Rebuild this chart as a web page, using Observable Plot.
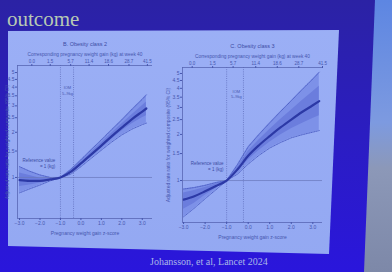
<!DOCTYPE html>
<html><head><meta charset="utf-8">
<script src="https://cdn.jsdelivr.net/npm/d3@7"></script>
<script src="https://cdn.jsdelivr.net/npm/@observablehq/plot@0.6"></script>
<style>
html,body{margin:0;padding:0;}
body{width:392px;height:272px;overflow:hidden;position:relative;background:linear-gradient(180deg,#2b22a4 0%,#2b1dc2 50%,#2a16dc 100%);font-family:"Liberation Sans",Arial,sans-serif;}
#strip{position:absolute;left:0;top:0;width:392px;height:272px;clip-path:polygon(375px 0,392px 0,392px 272px,364px 272px);background:linear-gradient(180deg,#5d86e2 0%,#7d9ae0 45%,#8c98b8 62%,#7d88a8 100%);}
#panel{position:absolute;left:0;top:0;width:392px;height:272px;clip-path:polygon(8px 31px,339px 30px,329px 254px,8px 246px);background:linear-gradient(180deg,#9cb0f6,#93a8f2);}
.t{position:absolute;font-family:"Liberation Serif","DejaVu Serif",serif;color:#b7c9b4;white-space:nowrap;}
#chartB,#chartC{position:absolute;top:30px;}
#chartB{left:0;} #chartC{left:165px;}
</style></head>
<body>
<div id="strip"></div>
<div id="panel"></div>
<div class="t" style="left:7px;top:9px;font-size:21px;line-height:21px;">outcome</div>
<div class="t" style="left:150px;top:256px;font-size:10px;line-height:12px;color:#a9b6e8;">Johansson, et al, Lancet 2024</div>
<div id="chartB"></div>
<div id="chartC"></div>
<script>
// ---- data ----
const yTicks = [1, 1.5, 2, 2.5, 3, 3.5, 4, 4.5, 5];
const zTicks = [-3, -2, -1, 0, 1, 2, 3];
const kgLabels = ["0.0", "1.5", "5.7", "11.4", "18.6", "28.7", "41.5"];
const kgTicksB = [-2.4, -1.5, -0.5, 0.4, 1.35, 2.35, 3.25];
const kgTicksC = [-2.6, -1.65, -0.7, 0.35, 1.35, 2.35, 3.45];

const zB    = [-3, -2.5, -2, -1.5, -1, -0.5, 0, 0.5, 1, 1.5, 2, 2.5, 3, 3.2];
const rrB   = [0.96, 0.95, 0.95, 0.97, 1.0, 1.09, 1.24, 1.42, 1.63, 1.88, 2.15, 2.45, 2.75, 2.88];
const loB   = [0.79, 0.84, 0.89, 0.95, 1.0, 1.05, 1.18, 1.34, 1.52, 1.72, 1.92, 2.10, 2.25, 2.30];
const hiB   = [1.18, 1.10, 1.04, 1.00, 1.0, 1.13, 1.31, 1.53, 1.78, 2.08, 2.42, 2.85, 3.32, 3.55];
const iloB  = [0.87, 0.89, 0.92, 0.96, 1.0, 1.07, 1.21, 1.38, 1.57, 1.80, 2.04, 2.28, 2.50, 2.58];
const ihiB  = [1.07, 1.03, 0.99, 0.99, 1.0, 1.11, 1.27, 1.47, 1.70, 1.97, 2.27, 2.62, 3.00, 3.18];

const zC    = [-3, -2.5, -2, -1.5, -1, -0.5, 0, 0.5, 1, 1.5, 2, 2.5, 3, 3.3];
const rrC   = [0.75, 0.79, 0.85, 0.92, 1.0, 1.18, 1.45, 1.70, 1.95, 2.22, 2.50, 2.80, 3.10, 3.30];
const loC   = [0.58, 0.66, 0.76, 0.87, 1.0, 1.10, 1.28, 1.46, 1.63, 1.77, 1.90, 1.99, 2.07, 2.12];
const hiC   = [0.88, 0.90, 0.93, 0.97, 1.0, 1.27, 1.66, 2.00, 2.38, 2.82, 3.32, 3.92, 4.60, 5.10];
const iloC  = [0.65, 0.71, 0.80, 0.89, 1.0, 1.14, 1.36, 1.57, 1.78, 1.98, 2.18, 2.36, 2.54, 2.65];
const ihiC  = [0.83, 0.86, 0.90, 0.95, 1.0, 1.22, 1.55, 1.84, 2.15, 2.50, 2.88, 3.32, 3.80, 4.12];

const iomB = [-1, -0.36];
const iomC = [-1, -0.22];

function makeChart(o) {
  const data = o.z.map((z, i) => ({z, rr: o.rr[i], lo: o.lo[i], hi: o.hi[i], ilo: o.ilo[i], ihi: o.ihi[i]}));
  const ink = "#4656ae";
  return Plot.plot({
    width: o.width, height: o.height,
    marginLeft: o.ml, marginRight: o.mr, marginTop: o.mt, marginBottom: o.mb,
    style: {background: "transparent", fontFamily: "'Liberation Sans', Arial, sans-serif", fontSize: "5px", color: ink, overflow: "visible"},
    x: {domain: o.xDomain},
    y: {type: "log", domain: o.yDomain},
    marks: [
      Plot.areaY(data, {x: "z", y1: "lo", y2: "hi", fill: "#7d91e8"}),
      Plot.areaY(data, {x: "z", y1: "ilo", y2: "ihi", fill: "#6b7ddd"}),
      Plot.lineY(data, {x: "z", y: "lo", stroke: "#5264c8", strokeWidth: 1, strokeDasharray: "0.7,1"}),
      Plot.lineY(data, {x: "z", y: "hi", stroke: "#5264c8", strokeWidth: 1, strokeDasharray: "0.7,1"}),
      Plot.ruleY([1], {stroke: "#6a78bc", strokeWidth: 0.7}),
      Plot.ruleX(o.iom, {stroke: "#5a68b8", strokeWidth: 0.7, strokeDasharray: "1,1.2"}),
      Plot.lineY(data, {x: "z", y: "rr", stroke: "#2c39a6", strokeWidth: 2.2, curve: "monotone-x"}),
      Plot.ruleX([o.xDomain[0]], {stroke: "#5866b4", strokeWidth: 0.8}),
      Plot.ruleY([o.yDomain[0]], {stroke: "#5866b4", strokeWidth: 0.8}),
      Plot.ruleY([o.yDomain[1]], {stroke: "#5866b4", strokeWidth: 0.8}),
      Plot.axisY({ticks: yTicks, tickFormat: d => String(d), tickSize: 2, tickPadding: 1, fontSize: 5,
        label: "Adjusted rate ratio for weighted composite (95% CI)", labelAnchor: "center", labelArrow: "none", labelOffset: o.yLabOff}),
      Plot.axisX({anchor: "bottom", ticks: zTicks, tickSize: 2, tickPadding: 1, fontSize: 5,
        label: "Pregnancy weight gain z-score", labelAnchor: "center", labelArrow: "none", labelOffset: 16}),
      Plot.axisX({anchor: "top", ticks: o.kgTicks, tickFormat: d => kgLabels[o.kgTicks.indexOf(d)], tickSize: 2, tickPadding: 1, fontSize: 4.5, label: null}),
      Plot.text([o.title], {frameAnchor: "top", dy: -23, fontSize: 5.5, fill: "#3c4ca4"}),
      Plot.text(["Corresponding pregnancy weight gain (kg) at week 40"], {frameAnchor: "top", dy: -13, fontSize: 4.8, fill: ink}),
      Plot.text([o.ref], {x: "z", y: "v", text: () => "Reference value\n= 1 (kg)", textAnchor: "end", fontSize: 4.5, lineHeight: 1.2, fill: "#3c4ca4"}),
      Plot.text([o.iomLab], {x: "z", y: "v", text: () => "IOM\n5–9kg", fontSize: 4, lineHeight: 1.4, fill: ink})
    ]
  });
}

document.getElementById("chartB").append(makeChart({
  title: "B. Obesity class 2", z: zB, rr: rrB, lo: loB, hi: hiB, ilo: iloB, ihi: ihiB,
  xDomain: [-3.1, 3.5], yDomain: [0.533, 5.57], kgTicks: kgTicksB, iom: iomB,
  ref: {z: -1.25, v: 1.24}, iomLab: {z: -0.66, v: 3.8}, yLabOff: 12,
  width: 165, height: 215, ml: 17, mr: 13, mt: 35, mb: 27
}));
document.getElementById("chartC").append(makeChart({
  title: "C. Obesity class 3", z: zC, rr: rrC, lo: loC, hi: hiC, ilo: iloC, ihi: ihiC,
  xDomain: [-3.05, 3.45], yDomain: [0.532, 5.47], kgTicks: kgTicksC, iom: iomC,
  ref: {z: -1.15, v: 1.24}, iomLab: {z: -0.55, v: 3.7}, yLabOff: 16,
  width: 170, height: 215, ml: 17, mr: 13, mt: 37, mb: 23
}));
</script>
</body></html>
